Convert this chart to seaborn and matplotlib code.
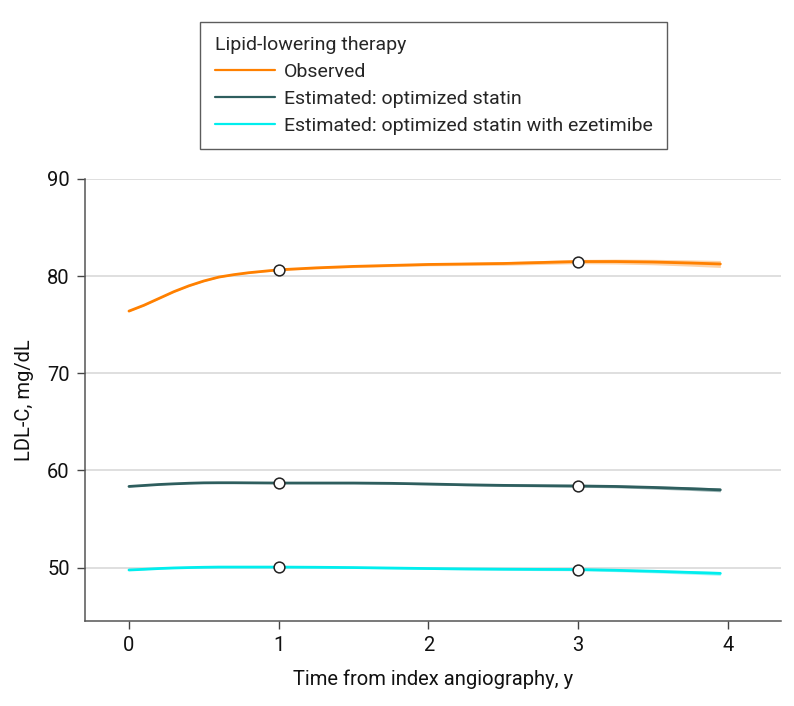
import numpy as np
import pandas as pd
import matplotlib
matplotlib.use("Agg")
import matplotlib.pyplot as plt
import seaborn as sns

# ---- data ----
series_names = ["Observed", "Estimated: optimized statin",
                "Estimated: optimized statin with ezetimibe"]
colors = ["#FF8000", "#2E5E5E", "#00EEEE"]
band_colors = ["#FDD3A8", "#9FB8B8", "#A8F5F5"]

time_x = [0.0, 0.1, 0.2, 0.3, 0.4, 0.5, 0.6, 0.7, 0.8, 0.9, 1.0, 1.25, 1.5,
          1.75, 2.0, 2.25, 2.5, 2.75, 3.0, 3.25, 3.5, 3.75, 3.95]
observed = [76.4, 77.0, 77.7, 78.4, 79.0, 79.5, 79.9, 80.15, 80.35, 80.5, 80.65,
            80.85, 81.0, 81.1, 81.2, 81.25, 81.3, 81.4, 81.5, 81.5, 81.45, 81.35, 81.25]
observed_half = [0.05, 0.05, 0.05, 0.05, 0.05, 0.05, 0.05, 0.05, 0.06, 0.07, 0.08,
                 0.1, 0.12, 0.13, 0.14, 0.16, 0.18, 0.2, 0.22, 0.25, 0.28, 0.32, 0.36]
statin = [58.35, 58.45, 58.55, 58.62, 58.68, 58.72, 58.73, 58.73, 58.72, 58.71, 58.7,
          58.7, 58.7, 58.67, 58.6, 58.52, 58.46, 58.43, 58.4, 58.35, 58.25, 58.12, 58.0]
statin_half = [0.04, 0.04, 0.04, 0.04, 0.04, 0.04, 0.04, 0.04, 0.05, 0.05, 0.05,
               0.06, 0.07, 0.08, 0.09, 0.1, 0.11, 0.12, 0.13, 0.14, 0.16, 0.18, 0.2]
ezetimibe = [49.75, 49.82, 49.9, 49.96, 50.0, 50.03, 50.05, 50.05, 50.05, 50.05, 50.05,
             50.03, 50.0, 49.95, 49.9, 49.86, 49.83, 49.81, 49.8, 49.72, 49.62, 49.5, 49.4]
ezetimibe_half = [0.04, 0.04, 0.04, 0.04, 0.04, 0.04, 0.04, 0.04, 0.05, 0.05, 0.05,
                  0.06, 0.07, 0.08, 0.09, 0.1, 0.11, 0.12, 0.13, 0.14, 0.16, 0.18, 0.2]

marker_x = [1, 3]
observed_markers = [80.65, 81.5]
statin_markers = [58.7, 58.4]
ezetimibe_markers = [50.05, 49.8]

x_ticks = [0, 1, 2, 3, 4]
y_ticks = [50, 60, 70, 80, 90]

# ---- build tables ----
values = [observed, statin, ezetimibe]
halves = [observed_half, statin_half, ezetimibe_half]
markers = [observed_markers, statin_markers, ezetimibe_markers]
line_df = pd.concat([pd.DataFrame({"time": time_x, "ldl": v, "series": n})
                     for v, n in zip(values, series_names)], ignore_index=True)
mark_df = pd.concat([pd.DataFrame({"time": marker_x, "ldl": m, "series": n})
                     for m, n in zip(markers, series_names)], ignore_index=True)

sns.set_theme(style="white")
plt.rcParams["font.family"] = ["Roboto", "DejaVu Sans"]

fig = plt.figure(figsize=(7.94, 7.06), dpi=100)
ax = fig.add_axes([0.107, 0.1204, 0.8766, 0.6261])

ax.set_axisbelow(True)
for yt in y_ticks:
    ax.axhline(yt, color="#D9D9D9", lw=1.2, zorder=0)

for v, h, bc in zip(values, halves, band_colors):
    v = np.asarray(v); h = np.asarray(h)
    ax.fill_between(time_x, v - h, v + h, color=bc, lw=0, zorder=1)

sns.lineplot(data=line_df, x="time", y="ldl", hue="series",
             hue_order=series_names, palette=colors, lw=2, ax=ax,
             estimator=None, sort=False, zorder=2)
sns.scatterplot(data=mark_df, x="time", y="ldl", ax=ax, color="white",
                edgecolor="#222222", linewidth=1.1, s=60, zorder=3, legend=False)

ax.set_xlim(-0.294, 4.355)
ax.set_ylim(44.5, 90)
ax.set_xticks(x_ticks)
ax.set_yticks(y_ticks)
ax.tick_params(axis="both", which="major", direction="out", length=6, width=1,
               color="#444444", labelsize=14.5, labelcolor="#111111", pad=5,
               left=True, bottom=True)
for side in ["top", "right"]:
    ax.spines[side].set_visible(False)
for side in ["left", "bottom"]:
    ax.spines[side].set_color("#555555")
    ax.spines[side].set_linewidth(1.1)

ax.set_xlabel("Time from index angiography, y", fontsize=14.5, color="#111111", labelpad=10)
ax.set_ylabel("LDL-C, mg/dL", fontsize=14.5, color="#111111", labelpad=9)

handles, labels = ax.get_legend_handles_labels()
ax.get_legend().remove()
leg = fig.legend(handles, labels, loc="upper left", bbox_to_anchor=(0.252, 0.969),
                 borderaxespad=0,
                 title="Lipid-lowering therapy", fontsize=14, title_fontsize=14,
                 frameon=True, fancybox=False, edgecolor="#333333",
                 handlelength=3.1, handletextpad=0.45, labelspacing=0.45,
                 borderpad=0.75, alignment="left")
leg.get_frame().set_linewidth(1.0)
for line in leg.get_lines():
    line.set_linewidth(1.6)

fig.savefig("out.png", dpi=100, facecolor="white")
